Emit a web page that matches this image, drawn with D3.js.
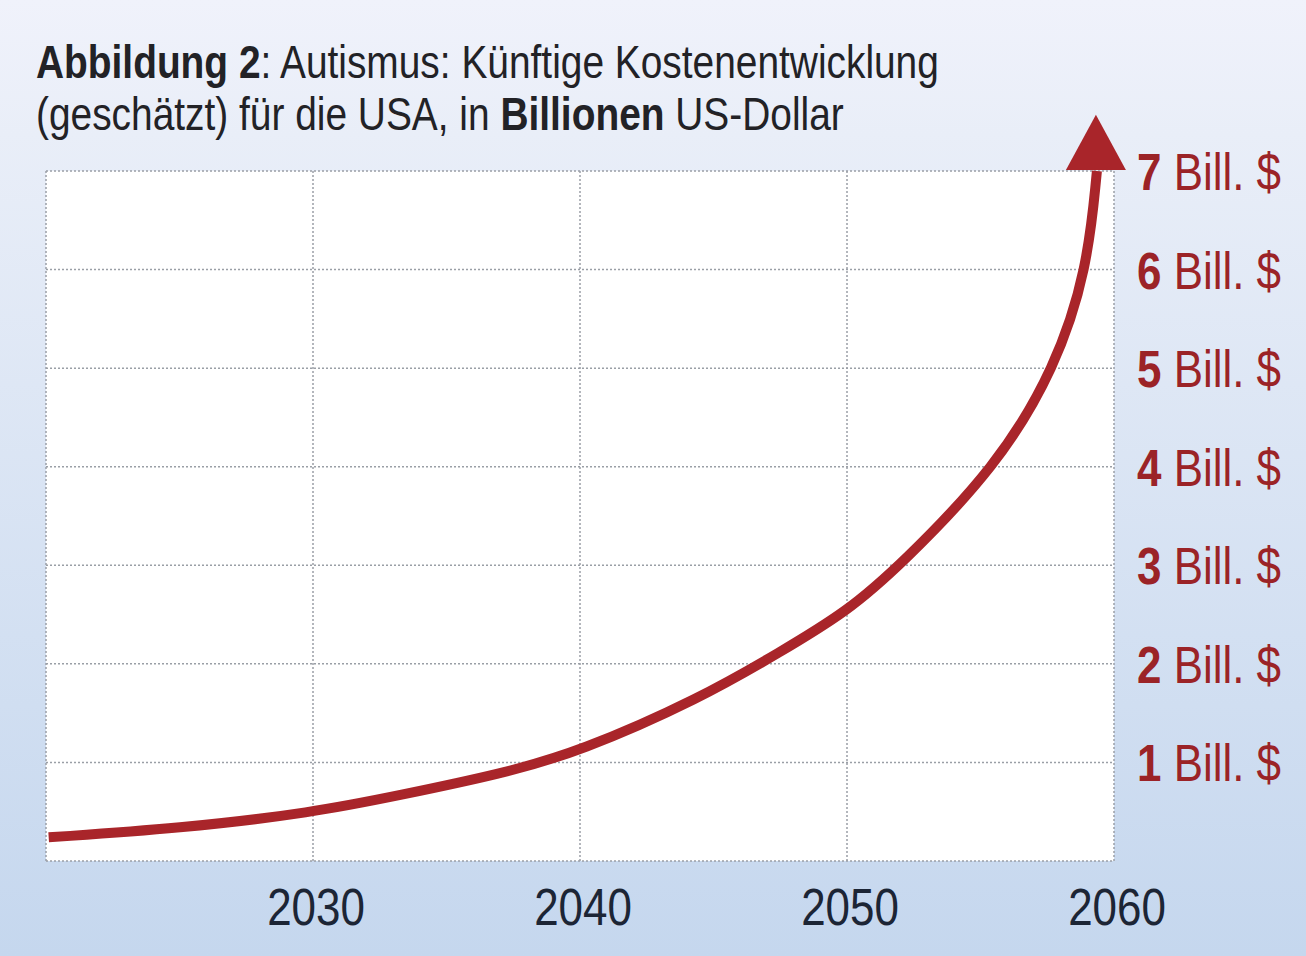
<!DOCTYPE html>
<html>
<head>
<meta charset="utf-8">
<script src="https://cdn.jsdelivr.net/npm/d3@7"></script>
<style>
  html, body { margin: 0; padding: 0; }
  body { width: 1306px; height: 956px; overflow: hidden; }
  text { font-family: "Liberation Sans", Arial, sans-serif; }
</style>
</head>
<body>
<div id="chart"></div>
<script>
// years and estimated costs (trillion US$)
var years  = [2020.1, 2025, 2030, 2033.3, 2037.0, 2040, 2044.5, 2047.5, 2050, 2052.0, 2055.6, 2057.8, 2059.0, 2059.36];
var values = [0.24,   0.33, 0.49, 0.67,   0.88,   1.11, 1.65,   2.12,   2.53, 3.0,    4.0,    5.0,    6.0,    7.0];
var arrowTip = 7.57;

var xTicks = [2030, 2040, 2050, 2060];
var yTicks = [1, 2, 3, 4, 5, 6, 7];
var yTickUnit = " Bill. $";

var titleLine1 = [["Abbildung 2", true], [": Autismus: Künftige Kostenentwicklung", false]];
var titleLine2 = [["(geschätzt) für die USA, in ", false], ["Billionen", true], [" US-Dollar", false]];

function draw() {
  const W = 1306, H = 956;
  const left = 46, right = 1114, top = 171, bottom = 861;
  const red = "#a9252a";
  const narrow = 0.845; // condensed look

  function place(x, y) {
    return "translate(" + x + "," + y + ") scale(" + narrow + ",1)";
  }

  var svg = d3.select("#chart").append("svg")
      .attr("width", W).attr("height", H);

  // background gradient
  var grad = svg.append("defs").append("linearGradient")
      .attr("id", "bg").attr("x1", 0).attr("y1", 0).attr("x2", 0).attr("y2", 1);
  grad.append("stop").attr("offset", "0%").attr("stop-color", "#f0f2fb");
  grad.append("stop").attr("offset", "14%").attr("stop-color", "#e9eef8");
  grad.append("stop").attr("offset", "100%").attr("stop-color", "#c5d7ee");
  svg.append("rect").attr("width", W).attr("height", H).attr("fill", "url(#bg)");

  var x = d3.scaleLinear().domain([2020, 2060]).range([left, right]);
  var y = d3.scaleLinear().domain([0, 7]).range([bottom, top]);

  // plot area
  svg.append("rect")
      .attr("x", x(2020)).attr("y", y(7))
      .attr("width", x(2060) - x(2020)).attr("height", y(0) - y(7))
      .attr("fill", "#ffffff");

  var grid = svg.append("g")
      .attr("stroke", "#9a9fa6").attr("stroke-width", 1.5)
      .attr("stroke-dasharray", "2,2");
  grid.selectAll("line.h").data([0].concat(yTicks)).enter().append("line")
      .attr("x1", x(2020)).attr("x2", x(2060))
      .attr("y1", function(d) { return y(d); })
      .attr("y2", function(d) { return y(d); });
  grid.selectAll("line.v").data([2020].concat(xTicks)).enter().append("line")
      .attr("y1", y(0)).attr("y2", y(7))
      .attr("x1", function(d) { return x(d); })
      .attr("x2", function(d) { return x(d); });

  // x labels
  svg.selectAll("text.xl").data(xTicks).enter().append("text")
      .attr("transform", function(d) { return place(x(d) + 3, 925); })
      .attr("text-anchor", "middle")
      .attr("font-size", 52)
      .attr("fill", "#1c2535")
      .text(function(d) { return d; });

  // y labels on the right
  var yl = svg.selectAll("text.yl").data(yTicks).enter().append("text")
      .attr("transform", function(d) { return place(1137, y(d) + 19); })
      .attr("font-size", 52)
      .attr("fill", "#9b2327");
  yl.append("tspan").attr("font-weight", "bold").text(function(d) { return d; });
  yl.append("tspan").text(yTickUnit);

  // curve
  var pts = years.map(function(d, i) { return [d, values[i]]; });
  var line = d3.line()
      .x(function(d) { return x(d[0]); })
      .y(function(d) { return y(d[1]); })
      .curve(d3.curveBasis);
  svg.append("path")
      .attr("d", line(pts))
      .attr("fill", "none")
      .attr("stroke", red)
      .attr("stroke-width", 10);

  // arrow head
  var last = pts[pts.length - 1];
  var ax = x(last[0]) - 1, half = 30;
  svg.append("path")
      .attr("d", "M" + (ax - half) + "," + (y(last[1]) - 1) +
                 "L" + (ax + half) + "," + (y(last[1]) - 1) +
                 "L" + ax + "," + y(arrowTip) + "Z")
      .attr("fill", red);

  // title
  var t = svg.append("g").attr("fill", "#222226").attr("font-size", 46);
  [[titleLine1, 78], [titleLine2, 130]].forEach(function(l) {
    var tx = t.append("text").attr("transform", place(36, l[1]));
    l[0].forEach(function(p) {
      tx.append("tspan").attr("font-weight", p[1] ? "bold" : "normal").text(p[0]);
    });
  });
  return svg;
}
draw();
</script>
</body>
</html>
